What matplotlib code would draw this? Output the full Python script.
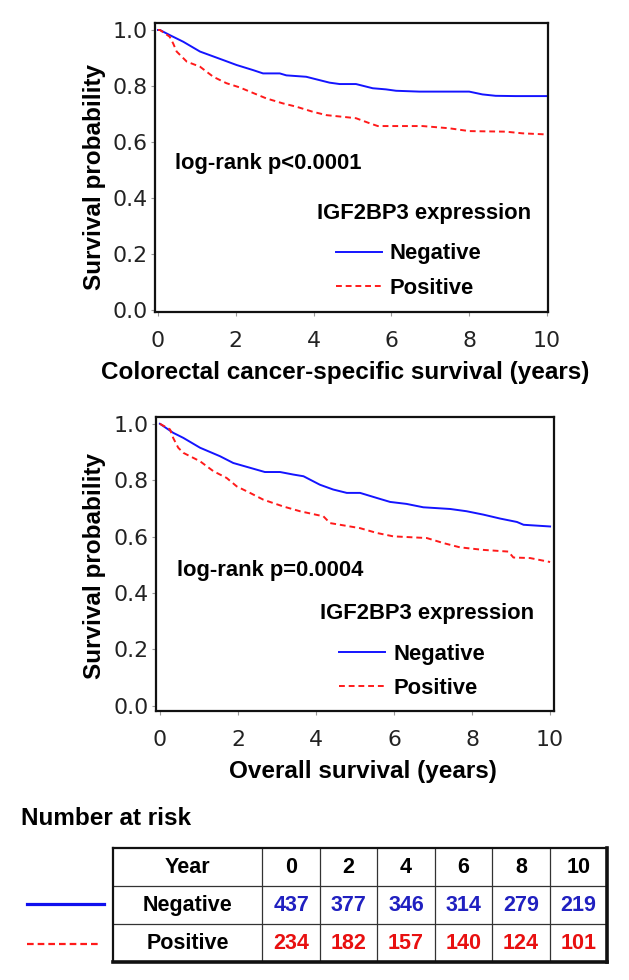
import matplotlib
matplotlib.use('Agg')
import matplotlib.pyplot as plt
from matplotlib.lines import Line2D

W, H = 629, 980

# colorectal cancer-specific survival
css_neg_years = [0, 0.05, 0.3, 0.65, 1.08, 1.67, 2.02, 2.44, 2.7, 3.13, 3.3, 3.81, 3.98, 4.41, 4.67,
                 5.09, 5.52, 5.86, 6.12, 6.72, 8.0, 8.34, 8.68, 9.19, 10.0]
css_neg_surv = [1.0, 1.0, 0.982, 0.958, 0.923, 0.893, 0.875, 0.857, 0.845, 0.845, 0.838, 0.833, 0.827, 0.812, 0.807,
                0.807, 0.792, 0.788, 0.783, 0.78, 0.78, 0.77, 0.765, 0.764, 0.764]
css_pos_years = [0, 0.05, 0.3, 0.39, 0.48, 0.74, 1.08, 1.42, 1.76, 2.1, 2.36, 2.78, 3.21, 3.56, 3.98,
                 4.33, 4.75, 5.09, 5.44, 5.65, 6.8, 7.49, 8.0, 8.94, 9.37, 10.0]
css_pos_surv = [1.0, 1.0, 0.976, 0.952, 0.923, 0.887, 0.869, 0.833, 0.81, 0.795, 0.78, 0.756, 0.738, 0.726, 0.708,
                0.696, 0.69, 0.685, 0.667, 0.657, 0.657, 0.649, 0.639, 0.637, 0.631, 0.627]

# overall survival
os_neg_years = [0, 0.34, 0.6, 1.03, 1.54, 1.88, 2.31, 2.69, 3.08, 3.42, 3.68, 4.1, 4.44, 4.79, 5.13,
                5.56, 5.9, 6.32, 6.75, 7.44, 7.86, 8.29, 8.72, 9.15, 9.32, 10.0]
os_neg_surv = [1.0, 0.968, 0.95, 0.915, 0.885, 0.861, 0.844, 0.829, 0.829, 0.82, 0.814, 0.784, 0.767, 0.755, 0.755,
               0.737, 0.723, 0.716, 0.704, 0.698, 0.69, 0.678, 0.664, 0.652, 0.642, 0.636]
os_pos_years = [0, 0.26, 0.34, 0.47, 0.6, 1.03, 1.37, 1.71, 1.97, 2.31, 2.65, 3.16, 3.59, 4.19, 4.36,
                5.13, 5.56, 5.98, 6.84, 7.27, 7.69, 8.29, 8.93, 9.06, 9.49, 10.0]
os_pos_surv = [1.0, 0.98, 0.95, 0.915, 0.897, 0.867, 0.832, 0.808, 0.778, 0.755, 0.731, 0.707, 0.69, 0.672, 0.648,
               0.63, 0.613, 0.601, 0.595, 0.577, 0.562, 0.553, 0.547, 0.526, 0.524, 0.51]

# number at risk table
risk_years = [0, 2, 4, 6, 8, 10]
risk_neg = [437, 377, 346, 314, 279, 219]
risk_pos = [234, 182, 157, 140, 124, 101]

group_labels = ['Negative', 'Positive']
BLUE = '#1414ff'
RED = '#ff1a1a'
BOLD = dict(family='Liberation Sans', fontweight='bold')


def box(l, t, r, b):
    # pixel box -> figure fraction
    return [l / W, 1 - b / H, (r - l) / W, (b - t) / H]


fig = plt.figure(figsize=(W / 100, H / 100), dpi=100)


def km_panel(rect, xlim, ylim, neg, pos, ptext, ptext_y, leg_y, leg_top):
    ax = fig.add_axes(rect)
    l1, = ax.plot(neg[0], neg[1], color=BLUE, lw=1.4)
    l2, = ax.plot(pos[0], pos[1], color=RED, lw=1.4, dashes=(3, 2))
    ax.set_xlim(*xlim)
    ax.set_ylim(*ylim)
    ax.set_xticks(risk_years)
    ax.set_yticks([0, 0.2, 0.4, 0.6, 0.8, 1.0])
    ax.set_yticklabels(['0.0', '0.2', '0.4', '0.6', '0.8', '1.0'])
    for s in ax.spines.values():
        s.set_linewidth(1.6)
        s.set_color('#111111')
    ax.tick_params(axis='x', length=3, width=0.8, color='#999999', pad=11,
                   labelsize=15.8, labelcolor='#222222')
    ax.tick_params(axis='y', length=3, width=0.8, color='#999999', pad=2.2,
                   labelsize=15.8, labelcolor='#222222')
    for lab in ax.get_xticklabels() + ax.get_yticklabels():
        lab.set_family('DejaVu Sans')
    ax.text(0.44, ptext_y, ptext, fontsize=15.8, va='center', ha='left', **BOLD)
    ax.text(4.1, leg_y, 'IGF2BP3 expression', fontsize=15.8, va='center', ha='left', **BOLD)
    ax.legend([l1, l2], group_labels, loc='upper left',
              bbox_to_anchor=(0.4606, (leg_top - ylim[0]) / (ylim[1] - ylim[0])),
              frameon=False, borderpad=0, borderaxespad=0, handlelength=2.1,
              handletextpad=0.36, labelspacing=0.6,
              prop=dict(family='Liberation Sans', weight='bold', size=15.8))
    return ax


ax1 = km_panel(box(155, 23, 548, 312), (-0.077, 10.026), (-0.007, 1.025),
               (css_neg_years, css_neg_surv), (css_pos_years, css_pos_surv),
               'log-rank p<0.0001', 0.525, 0.346, 0.238)
ax2 = km_panel(box(156, 417, 554, 711), (-0.10, 10.10), (-0.018, 1.024),
               (os_neg_years, os_neg_surv), (os_pos_years, os_pos_surv),
               'log-rank p=0.0004', 0.48, 0.327, 0.221)

fig.text(95 / W, 1 - 177 / H, 'Survival probability', rotation=90, fontsize=17.5,
         ha='center', va='center', **BOLD)
fig.text(95 / W, 1 - 566 / H, 'Survival probability', rotation=90, fontsize=17.5,
         ha='center', va='center', **BOLD)
fig.text(345 / W, 1 - 372 / H, 'Colorectal cancer-specific survival (years)', fontsize=17.5,
         ha='center', va='center', **BOLD)
fig.text(363 / W, 1 - 771 / H, 'Overall survival (years)', fontsize=17.5,
         ha='center', va='center', **BOLD)
fig.text(21 / W, 1 - 818 / H, 'Number at risk', fontsize=17.5, ha='left', va='center', **BOLD)

# number at risk table
col_edges = [0, 2.6, 3.6, 4.6, 5.6, 6.6, 7.6, 8.6]
tab = fig.add_axes(box(113, 848, 607, 962))
tab.set_xlim(0, col_edges[-1])
tab.set_ylim(3, 0)
tab.set_xticks([])
tab.set_yticks([])
for side in ['left', 'top']:
    tab.spines[side].set_linewidth(1.6)
for side in ['right', 'bottom']:
    tab.spines[side].set_linewidth(2.6)
for s in tab.spines.values():
    s.set_color('#111111')
for xe in col_edges[1:-1]:
    tab.axvline(xe, color='#333333', lw=0.9)
for r in [1, 2]:
    tab.axhline(r, color='#333333', lw=0.9)

rows = [('Year', risk_years, 'black'), ('Negative', risk_neg, '#2020c0'), ('Positive', risk_pos, '#e81010')]
for i, (name, vals, col) in enumerate(rows):
    tab.text(col_edges[1] / 2, i + 0.5, name, ha='center', va='center', fontsize=15.5, **BOLD)
    for j, v in enumerate(vals):
        xc = (col_edges[j + 1] + col_edges[j + 2]) / 2
        tab.text(xc, i + 0.5, str(v), ha='center', va='center', fontsize=15.5, color=col, **BOLD)

# line keys left of the table
fig.add_artist(Line2D([27 / W, 104 / W], [1 - 904 / H, 1 - 904 / H], color='#1010ee', lw=2.3))
fig.add_artist(Line2D([27 / W, 100 / W], [1 - 944 / H, 1 - 944 / H], color=RED, lw=1.6,
                      dashes=(3, 1.8)))

fig.savefig('out.png', dpi=100)
